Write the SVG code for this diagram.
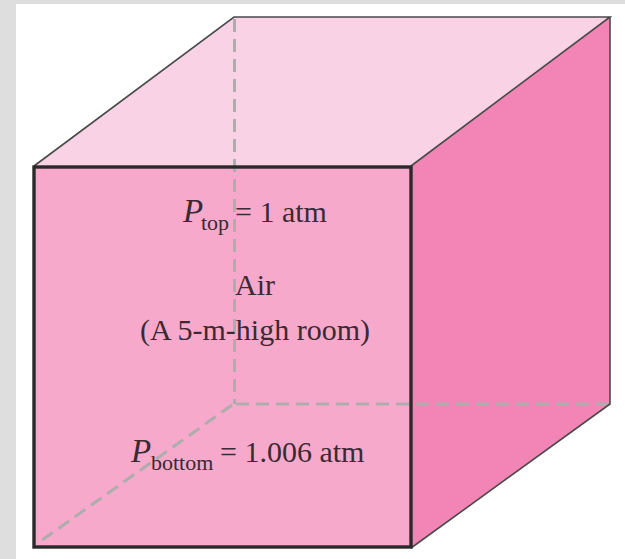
<svg xmlns="http://www.w3.org/2000/svg" width="625" height="559" viewBox="0 0 625 559">
<style>
.t{font-family:"Liberation Serif",serif;font-size:30px;fill:#3a2a33}
.s{font-size:22px}
.i{font-style:italic;font-size:33px}
.d{fill:none;stroke:#adadad;stroke-width:3;stroke-dasharray:13 7}
.e{fill:none;stroke:#4a4a4a;stroke-width:1.6}
</style>
<rect width="625" height="559" fill="#dedede"/>
<rect x="16" y="4" width="609" height="555" fill="#ffffff"/>
<g id="top-face"><polygon points="34,166 234,17 610,17 411,166" fill="#f9d3e5"/></g>
<g id="right-face"><polygon points="411,166 610,17 610,404 411,548" fill="#f385b6"/></g>
<g id="front-face"><rect x="34" y="167" width="377" height="380" fill="#f6a9cb"/></g>
<g id="connectors">
<path class="d" d="M234.500 19V404"/>
<path class="d" d="M236 404H610"/>
<path class="d" d="M232 405L38 543"/>
<path class="e" d="M34 166L234 17H610L411 166"/>
<path class="e" d="M610 17V404L411 548"/>
<rect x="34" y="167" width="377" height="380" fill="none" stroke="#2a2a2a" stroke-width="3.400"/>
</g>
<g id="label-top"><text class="t" x="183" y="222"><tspan class="i">P</tspan><tspan class="s" x="201" y="230">top</tspan><tspan x="235" y="222">= 1 atm</tspan></text></g>
<g id="label-air"><text class="t" x="235" y="295">Air</text><text class="t" x="140" y="340">(A 5-m-high room)</text></g>
<g id="label-bottom"><text class="t" x="131" y="462"><tspan class="i">P</tspan><tspan class="s" x="151" y="470">bottom</tspan><tspan x="220" y="462">= 1.006 atm</tspan></text></g>
</svg>
